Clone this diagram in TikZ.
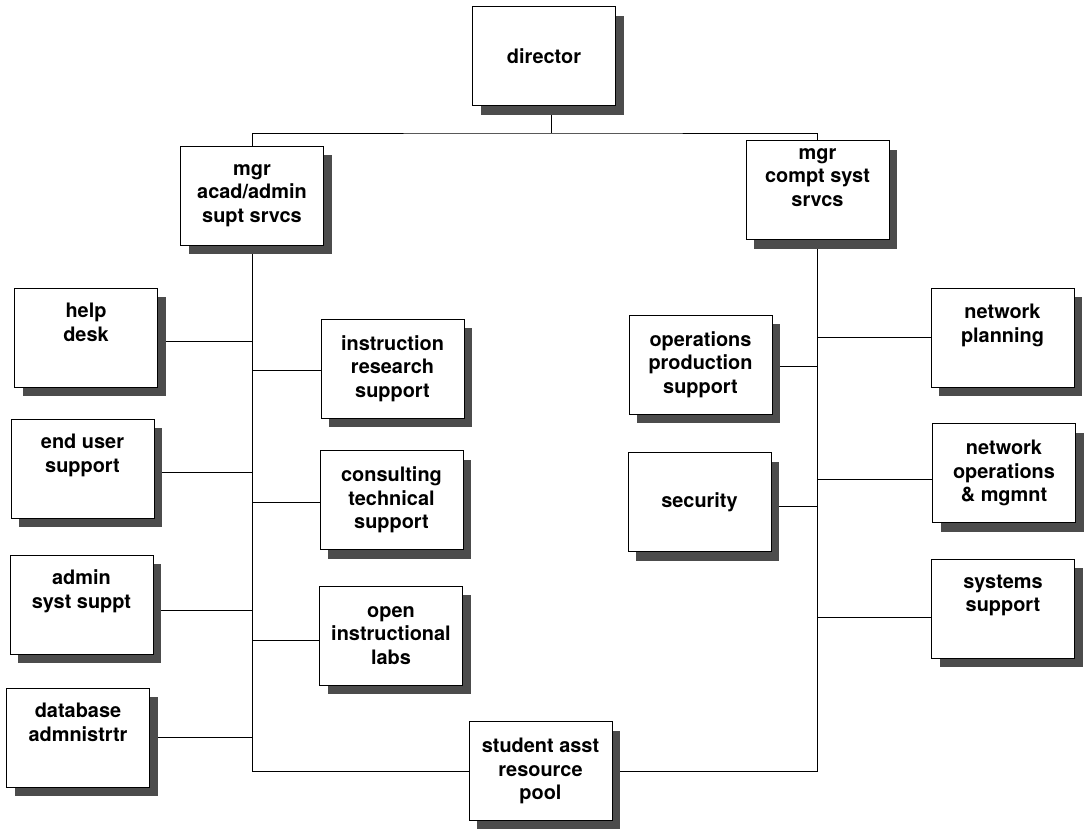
\documentclass[tikz,border=0pt]{standalone}
\usepackage{fontspec}
\setmainfont{TeX Gyre Heros}
\usetikzlibrary{shadows,backgrounds}
\tikzset{
  unit/.style={draw, line width=0.7pt, fill=white, minimum width=4.29cm, minimum height=2.97cm,
    inner sep=0pt, align=center, font=\bfseries\fontsize{17}{20}\selectfont,
    drop shadow={shadow xshift=0.25cm, shadow yshift=-0.28cm, fill=black!70, opacity=1}},
  link/.style={line width=0.55pt}
}
\begin{document}
\begin{tikzpicture}[x=0.03cm, y=-0.03cm]
    \useasboundingbox (0,0) rectangle (1085,828);

    \node[unit] (dir) at (544,56) {director};
    \node[unit] (acad) at (252,195.5) {mgr\\acad/admin\\supt srvcs};
    \node[unit] (compt) at (817.5,190) {mgr\\compt syst\\srvcs\\[2pt]~};

    \node[unit] (help) at (86,337.5) {help\\desk\\[6pt]~};
    \node[unit] (enduser) at (82.5,468.5) {end user\\support\\[6pt]~};
    \node[unit] (adminsys) at (81.5,604.5) {admin\\syst suppt\\[6pt]~};
    \node[unit] (database) at (78,737.5) {database\\admnistrtr\\[6pt]~};

    \node[unit] (instr) at (392.5,368.5) {instruction\\research\\support};
    \node[unit] (consult) at (391.5,500) {consulting\\technical\\support};
    \node[unit] (labs) at (391,635.5) {open\\instructional\\labs};
    \node[unit] (student) at (540.5,771) {student asst\\resource\\pool};

    \node[unit] (oper) at (700.5,364.5) {operations\\production\\support};
    \node[unit] (security) at (699.5,502) {security};

    \node[unit] (netplan) at (1002.5,337.5) {network\\planning\\[4pt]~};
    \node[unit] (netops) at (1004,473) {network\\operations\\\& mgmnt};
    \node[unit] (syssup) at (1003,608.5) {systems\\support\\[6pt]~};

    \coordinate (bus) at (551,133);

    \begin{scope}[on background layer]
    \draw[link] (dir.south -| bus) -- (bus);
    \draw[link] (acad.north) |- (bus) -| (compt.north);
    \draw[link] (acad.south) |- (student.west);
    \draw[link] (compt.south) |- (student.east);
    \foreach \n/\d in {help/3.5, enduser/3.5, adminsys/5.5, database/0, instr/1.5, consult/2, labs/4.5}
      \draw[link] (\n) ++(0,\d) coordinate (p) -- (p -| acad.south);
    \foreach \n/\d in {oper/1.5, security/4, netplan/0, netops/6, syssup/8.5}
      \draw[link] (\n) ++(0,\d) coordinate (p) -- (p -| compt.south);
    \end{scope}
\end{tikzpicture}
\end{document}
